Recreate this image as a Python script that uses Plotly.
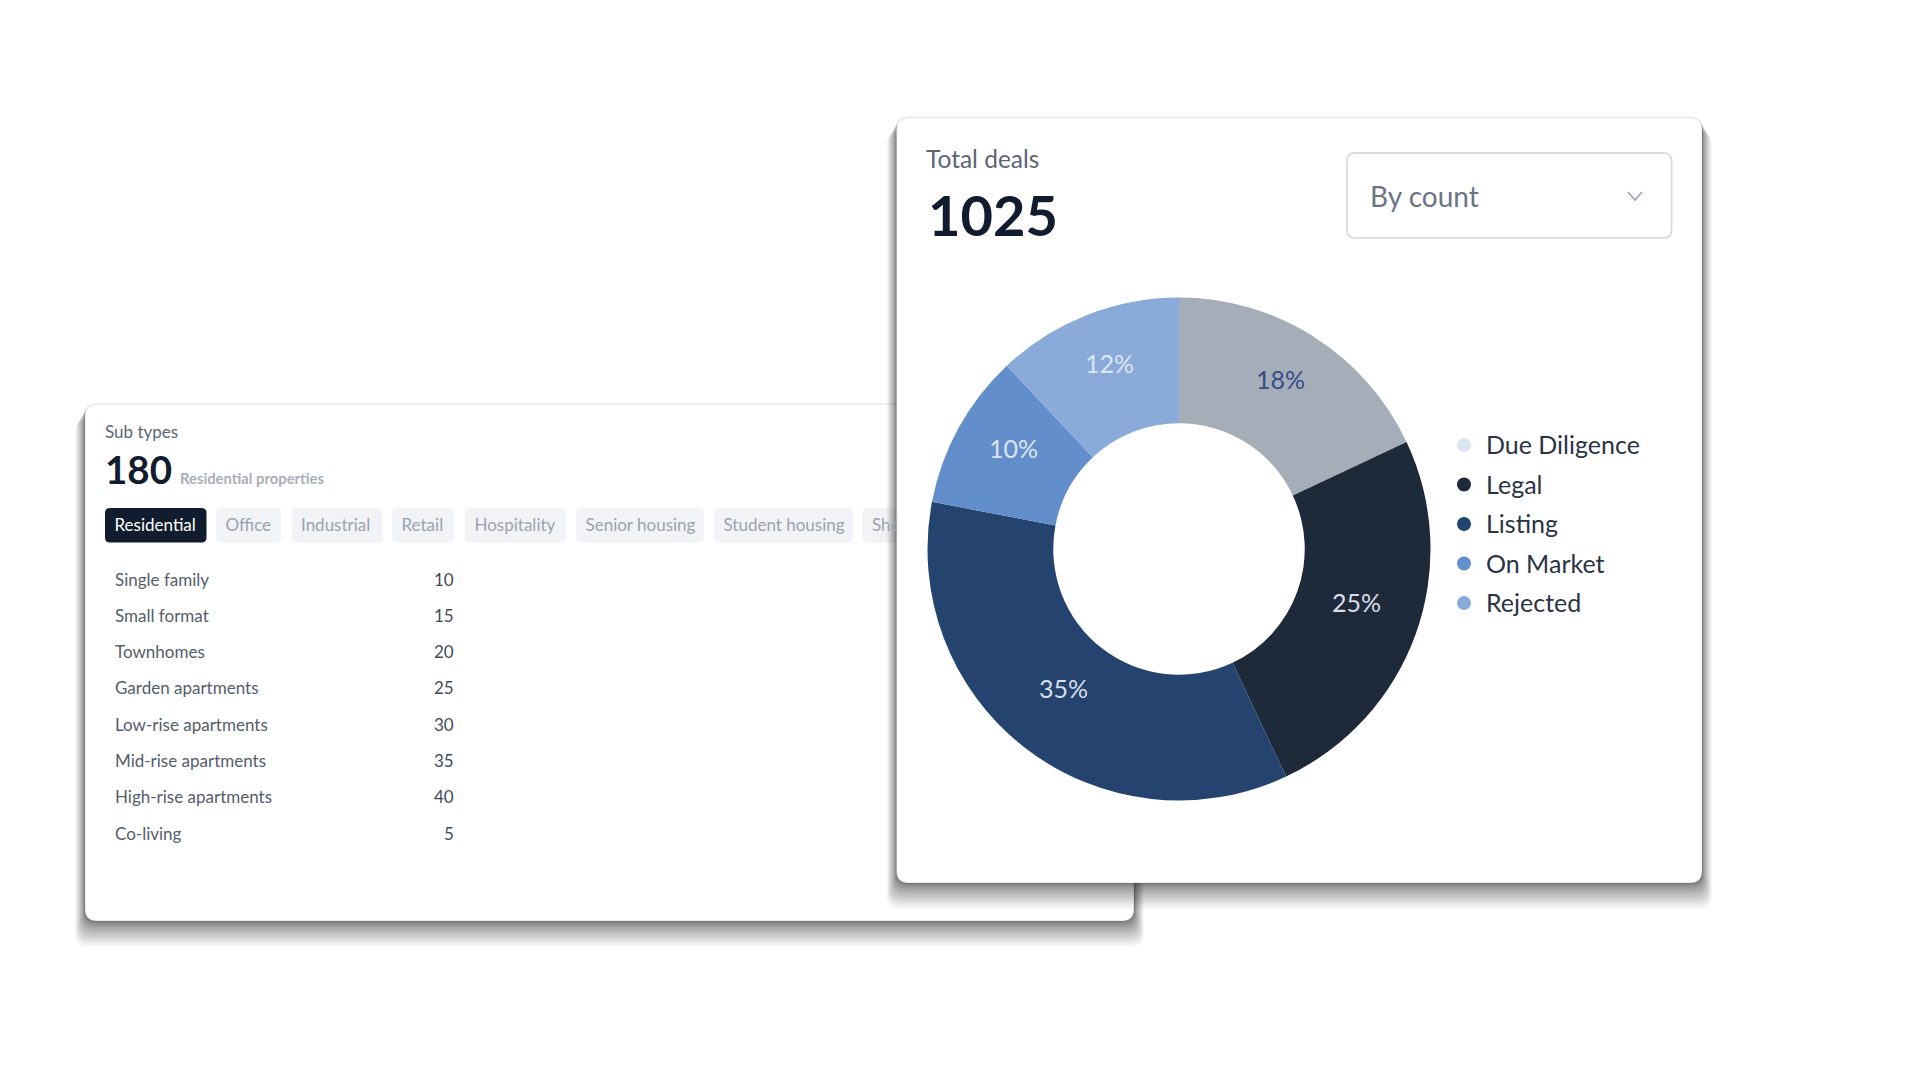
import math
import plotly.graph_objects as go

# donut
stages = ["Due Diligence", "Legal", "Listing", "On Market", "Rejected"]
stage_share = [18, 25, 35, 10, 12]
slice_colors = ["#A5ADB9", "#1E2A3A", "#24446F", "#628FCC", "#8AAADA"]
legend_colors = ["#DCE5F3", "#1E2A3A", "#24446F", "#628FCC", "#8AAADA"]
label_colors = ["#33508A", "#D8DEE8", "#D8DEE8", "#DCE5F3", "#DCE5F3"]

# left table
sub_types = ["Single family", "Small format", "Townhomes", "Garden apartments",
             "Low-rise apartments", "Mid-rise apartments", "High-rise apartments", "Co-living"]
sub_counts = [10, 15, 20, 25, 30, 35, 40, 5]
tabs = ["Residential", "Office", "Industrial", "Retail", "Hospitality",
        "Senior housing", "Student housing", "Sho"]
tab_left = [105, 216, 291.5, 392, 465, 576, 714, 862.5]
tab_right = [206.5, 281, 382.5, 454, 566, 704, 853, 905]

FONT = "Lato"
W, H = 1920, 1080
CARD2_LEFT = 896.5
CX, CY, R_OUT = 1179, 549, 251.5


def rounded(x0, y0, x1, y1, r):
    return (f"M{x0+r},{y0} L{x1-r},{y0} Q{x1},{y0} {x1},{y0+r} L{x1},{y1-r} Q{x1},{y1} {x1-r},{y1} "
            f"L{x0+r},{y1} Q{x0},{y1} {x0},{y1-r} L{x0},{y0+r} Q{x0},{y0} {x0+r},{y0} Z")


def card(fig, x0, y0, x1, y1):
    # stacked translucent rects, fakes the heavy drop shadow
    n = 40
    for i in range(n):
        k = ((n - i) / n) ** 2
        fig.add_shape(type="path", path=rounded(x0 - 10 * k, y0 + 16 * k, x1 + 10 * k, y1 + 26 * k, 12),
                      fillcolor="#222222", opacity=0.025, line_width=0, layer="below")
    fig.add_shape(type="path", path=rounded(x0, y0, x1, y1, 12), fillcolor="white",
                  line=dict(color="rgba(120,120,120,0.13)", width=2), layer="below")


def label(fig, x, y, text, size, color, weight=400, anchor="left"):
    fig.add_annotation(x=x, y=y, text=text, showarrow=False, xanchor=anchor, yanchor="middle",
                       font=dict(family=FONT, size=size, color=color, weight=weight))


fig = go.Figure()

card(fig, 85, 404, 1134, 921)
for x0, x1, name in zip(tab_left, tab_right, tabs):
    fig.add_shape(type="path", path=rounded(x0, 508, x1, 542.5, 5),
                  fillcolor="#111C2E" if name == "Residential" else "#F1F3F6",
                  line_width=0, layer="below")
card(fig, CARD2_LEFT, 117.5, 1702, 883)

# dropdown box and chevron
fig.add_shape(type="path", path=rounded(1347, 153, 1671.5, 238, 8), fillcolor="white",
              line=dict(color="#DADDE3", width=2), layer="below")
fig.add_shape(type="path", path="M1628,192 L1635,200 L1642,192", line=dict(color="#9AA3AF", width=1.6))

# tab labels are clipped at the right card through this subplot
fig.add_trace(go.Scatter(
    x=[x + 9.5 for x in tab_left],
    y=[526.5] * len(tabs), text=tabs, mode="text", textposition="middle right", cliponaxis=True,
    textfont=dict(family=FONT, size=17, color=["#FFFFFF"] + ["#9CA3AF"] * (len(tabs) - 1)),
    xaxis="x2", yaxis="y2", hoverinfo="skip", showlegend=False))

# donut
fig.add_trace(go.Pie(
    labels=stages, values=stage_share, hole=0.5, sort=False, direction="clockwise", rotation=0,
    marker=dict(colors=slice_colors, line=dict(width=0)), textinfo="none",
    domain=dict(x=[(CX - R_OUT) / W, (CX + R_OUT) / W], y=[1 - (CY + R_OUT) / H, 1 - (CY - R_OUT) / H]),
    hoverinfo="skip", showlegend=False))

# percent labels sit a bit above mid ring in the original, plotly can't do that inside the pie
total = sum(stage_share)
cum = 0
for share, color in zip(stage_share, label_colors):
    a = 2 * math.pi * (cum + share / 2) / total
    cum += share
    label(fig, CX + 0.75 * R_OUT * math.sin(a), CY - 0.75 * R_OUT * math.cos(a) - 10.5,
          f"{share}%", 25, color, anchor="center")

# legend by hand, first marker is paler than its slice
fig.add_trace(go.Scatter(
    x=[1464] * len(stages), y=[445 + i * 39.5 for i in range(len(stages))], mode="markers",
    marker=dict(size=14, color=legend_colors), hoverinfo="skip", showlegend=False))
for i, name in enumerate(stages):
    label(fig, 1484, 444 + i * 39.5, name, 25, "#2B3444")

label(fig, 924, 158, "Total deals", 24.5, "#5B6575")
label(fig, 925.5, 214, "1025", 56, "#111C2E", 700)
label(fig, 1367.5, 196, "By count", 28, "#6B7484")

label(fig, 102.5, 431, "Sub types", 17, "#5B6575")
label(fig, 103, 469, "180", 38.5, "#111C2E", 700)
label(fig, 178, 478, "Residential properties", 14.8, "#A8AEBA", 700)

for i, (name, count) in enumerate(zip(sub_types, sub_counts)):
    y = 579 + i * 36.3
    label(fig, 113, y, name, 17, "#545D6C")
    label(fig, 455.5, y, str(count), 17, "#434B59", anchor="right")

hidden = dict(visible=False, fixedrange=True)
fig.update_layout(
    width=W, height=H, margin=dict(l=0, r=0, t=0, b=0), paper_bgcolor="white", plot_bgcolor="rgba(0,0,0,0)",
    xaxis=dict(range=[0, W], domain=[0, 1], **hidden),
    yaxis=dict(range=[H, 0], domain=[0, 1], **hidden),
    xaxis2=dict(range=[0, CARD2_LEFT], domain=[0, CARD2_LEFT / W], anchor="y2", **hidden),
    yaxis2=dict(range=[H, 0], domain=[0, 1], anchor="x2", **hidden),
)

fig.write_html("out.html", config={"displayModeBar": False}, post_script="document.body.style.margin='0';")
